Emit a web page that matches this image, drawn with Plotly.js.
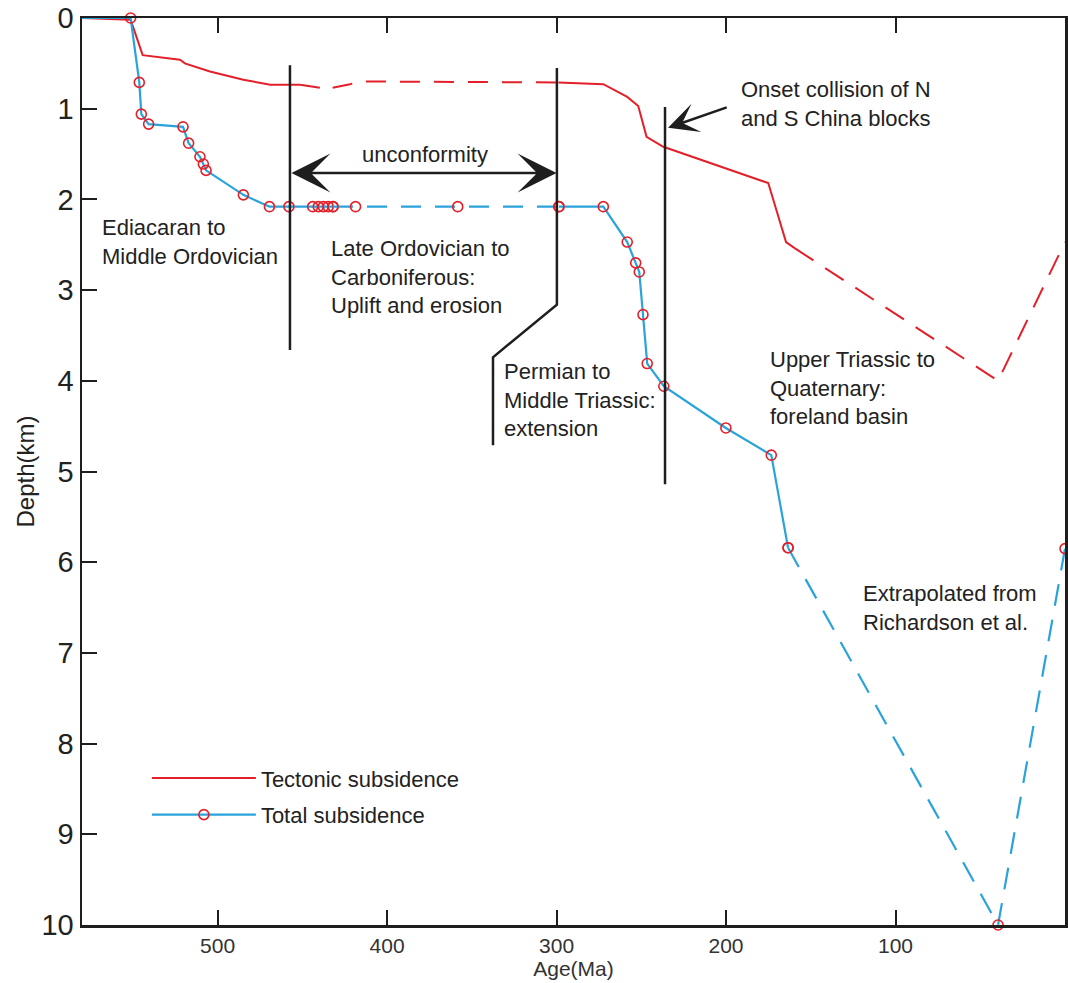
<!DOCTYPE html>
<html>
<head>
<meta charset="utf-8">
<script src="https://cdn.plot.ly/plotly-3.0.1.min.js"></script>
<style>html,body{margin:0;padding:0;background:#fff;}#chart{width:1068px;height:983px;}</style>
</head>
<body>
<div id="chart"></div>
<script>
// ---- Data (Age in Ma, Depth in km) ----
// Tectonic subsidence
const tecSolid1Age   = [580, 551.3, 544.2, 522.2, 519.3, 504.5, 484.8, 469.0, 451.3];
const tecSolid1Depth = [0, 0.02, 0.41, 0.46, 0.50, 0.59, 0.68, 0.735, 0.735];
const tecGapAge      = [451.3, 439.5, 436.0, 432.7, 421.9, 416.0, 298.9];
const tecGapDepth    = [0.735, 0.77, 0.74, 0.77, 0.73, 0.70, 0.71];
const tecSolid2Age   = [298.9, 272.4, 258.3, 251.8, 246.9, 237.0, 175.1, 164.6, 159.3];
const tecSolid2Depth = [0.71, 0.73, 0.87, 0.97, 1.31, 1.42, 1.82, 2.47, 2.54];
const tecExtrapAge   = [159.3, 39.5, 0];
const tecExtrapDepth = [2.54, 4.0, 2.47];

// Total subsidence
const totPreAge      = [580, 551.3];
const totPreDepth    = [0, 0];
const totSolid1Age   = [551.3, 546.2, 545.0, 540.7, 520.4, 517.1, 510.4, 508.4, 506.8, 484.8, 469.4, 457.9, 443.9, 440.6, 437.6, 434.7, 431.9];
const totSolid1Depth = [0, 0.71, 1.06, 1.17, 1.20, 1.38, 1.53, 1.61, 1.68, 1.95, 2.08, 2.08, 2.08, 2.08, 2.08, 2.08, 2.08];
const totGapAge      = [431.9, 418.6, 358.3, 298.6];
const totGapDepth    = [2.08, 2.08, 2.08, 2.08];
const totSolid2Age   = [298.6, 272.4, 258.3, 253.3, 251.2, 249.0, 246.5, 236.7, 200.1, 173.3, 163.4];
const totSolid2Depth = [2.08, 2.08, 2.47, 2.70, 2.80, 3.27, 3.81, 4.06, 4.52, 4.82, 5.84];
const totExtrapAge   = [163.4, 39.5, 0];
const totExtrapDepth = [5.84, 10.0, 5.85];

const xTickVals = [500, 400, 300, 200, 100, 0];
const yTickVals = [0, 1, 2, 3, 4, 5, 6, 7, 8, 9, 10];

// ---- Styles ----
const RED = '#e3202a';
const BLUE = '#2aa3db';
const INK = '#1e1e1e';
const FONT = 'Liberation Sans, Arial, sans-serif';

const redLine = (dash) => ({color: RED, width: 2, dash: dash});
const blueLine = (dash) => ({color: BLUE, width: 2.2, dash: dash});
const mk = {symbol: 'circle-open', size: 10, color: RED, line: {color: RED, width: 1.6}};

const traces = [
  {x: tecSolid1Age, y: tecSolid1Depth, mode: 'lines', line: redLine('solid'), name: 'Tectonic subsidence', legendgroup: 'tec', showlegend: true, cliponaxis: false},
  {x: tecGapAge, y: tecGapDepth, mode: 'lines', line: redLine('20px,14px'), legendgroup: 'tec', showlegend: false, cliponaxis: false},
  {x: tecSolid2Age, y: tecSolid2Depth, mode: 'lines', line: redLine('solid'), legendgroup: 'tec', showlegend: false, cliponaxis: false},
  {x: tecExtrapAge, y: tecExtrapDepth, mode: 'lines', line: redLine('22px,14px'), legendgroup: 'tec', showlegend: false, cliponaxis: false},
  {x: totPreAge, y: totPreDepth, mode: 'lines', line: blueLine('solid'), legendgroup: 'tot', showlegend: false, cliponaxis: false},
  {x: totSolid1Age, y: totSolid1Depth, mode: 'lines+markers', line: blueLine('solid'), marker: mk, name: 'Total subsidence', legendgroup: 'tot', showlegend: true, cliponaxis: false},
  {x: totGapAge, y: totGapDepth, mode: 'lines+markers', line: blueLine('20px,14px'), marker: mk, legendgroup: 'tot', showlegend: false, cliponaxis: false},
  {x: totSolid2Age, y: totSolid2Depth, mode: 'lines+markers', line: blueLine('solid'), marker: mk, legendgroup: 'tot', showlegend: false, cliponaxis: false},
  {x: totExtrapAge, y: totExtrapDepth, mode: 'lines+markers', line: blueLine('22px,14px'), marker: mk, legendgroup: 'tot', showlegend: false, cliponaxis: false}
];

const txt = (text, x, y, anchor) => ({
  text: text, x: x, y: y, xref: 'x', yref: 'y', showarrow: false,
  xanchor: anchor || 'left', yanchor: 'middle', align: 'left',
  font: {family: FONT, size: 22, color: '#222'}
});

const annotations = [
  txt('Ediacaran to<br>Middle Ordovician', 569.4, 2.47),
  txt('unconformity', 377.6, 1.51, 'center'),
  txt('Late Ordovician to<br>Carboniferous:<br>Uplift and erosion', 434.1, 2.85),
  txt('Permian to<br>Middle Triassic:<br>extension', 332.4, 4.21),
  txt('Onset collision of N<br>and S China blocks', 192.4, 0.95),
  txt('Upper Triassic to<br>Quaternary:<br>foreland basin', 175.1, 4.08),
  txt('Extrapolated from<br>Richardson et al.', 120.6, 6.5),
  {x: 300, y: 1.71, ax: 457.3, ay: 1.71, xref: 'x', yref: 'y', axref: 'x', ayref: 'y', text: '',
   showarrow: true, arrowside: 'end+start', arrowhead: 3, arrowsize: 2.6, arrowwidth: 2.5, arrowcolor: INK, standoff: 0, startstandoff: 0},
  {x: 234.2, y: 1.21, ax: 198.7, ay: 0.98, xref: 'x', yref: 'y', axref: 'x', ayref: 'y', text: '',
   showarrow: true, arrowhead: 3, arrowsize: 2.0, arrowwidth: 2.5, arrowcolor: INK, standoff: 0}
];

const shapes = [
  {type: 'line', xref: 'x', yref: 'y', x0: 457.3, x1: 457.3, y0: 0.52, y1: 3.66, line: {color: INK, width: 2.5}},
  {type: 'path', xref: 'x', yref: 'y', path: 'M 299.8,0.55 L 299.8,3.16 L 337.5,3.74 L 337.5,4.71', line: {color: INK, width: 2.5}},
  {type: 'line', xref: 'x', yref: 'y', x0: 236.0, x1: 236.0, y0: 0.98, y1: 5.14, line: {color: INK, width: 2.5}}
];

const layout = {
  width: 1068, height: 983,
  margin: {l: 82, r: 3, t: 18, b: 58},
  paper_bgcolor: '#fff', plot_bgcolor: '#fff',
  font: {family: FONT, color: '#222'},
  showlegend: true,
  legend: {
    x: 0.066, y: 0.185, xanchor: 'left', yanchor: 'top',
    bgcolor: 'rgba(0,0,0,0)', borderwidth: 0,
    font: {family: FONT, size: 22, color: '#222'},
    itemwidth: 104, traceorder: 'grouped', tracegroupgap: 5
  },
  xaxis: {
    range: [580, 0], tickvals: xTickVals, ticktext: xTickVals.map(String),
    ticks: 'inside', ticklen: 15, tickwidth: 2, tickcolor: INK,
    showline: true, linecolor: INK, linewidth: 2.5, mirror: 'ticks',
    showgrid: false, zeroline: false,
    tickfont: {family: FONT, size: 21, color: '#333'},
    title: {text: 'Age(Ma)', font: {family: FONT, size: 21, color: '#333'}, standoff: 2}
  },
  yaxis: {
    range: [10, 0], tickvals: yTickVals,
    ticks: 'inside', ticklen: 15, tickwidth: 2, tickcolor: INK,
    showline: true, linecolor: INK, linewidth: 2.5, mirror: true,
    showgrid: false, zeroline: false,
    tickfont: {family: FONT, size: 29, color: '#222'},
    title: {text: 'Depth(km)', font: {family: FONT, size: 24, color: '#222'}, standoff: 0}
  },
  annotations: annotations,
  shapes: shapes
};

Plotly.newPlot('chart', traces, layout, {displayModeBar: false, staticPlot: true});
</script>
</body>
</html>
